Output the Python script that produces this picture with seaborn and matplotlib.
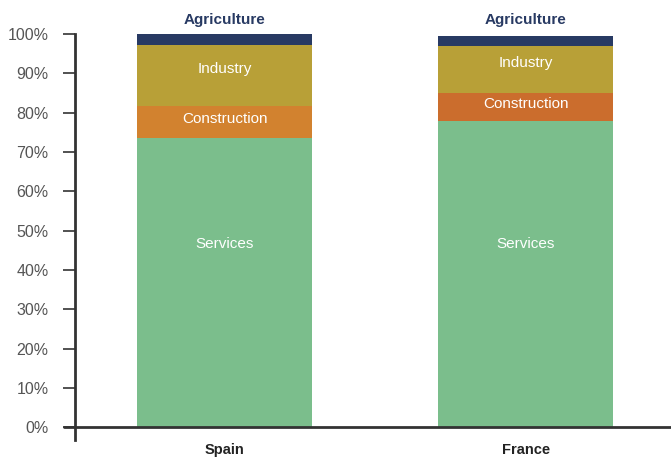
import numpy as np
import pandas as pd
import seaborn as sns
import matplotlib
matplotlib.use("Agg")
import matplotlib.pyplot as plt

countries = ["Spain", "France"]
services = [73.5, 77.8]
construction = [8.1, 7.2]
industry = [15.6, 11.9]
agriculture = [2.8, 2.7]

sectors = ["Services", "Construction", "Industry", "Agriculture"]
colors = {
    "Services": {"Spain": "#7bbe8c", "France": "#7bbe8c"},
    "Construction": {"Spain": "#d2822f", "France": "#cb6d2d"},
    "Industry": {"Spain": "#b8a037", "France": "#b8a037"},
    "Agriculture": {"Spain": "#283a63", "France": "#283a63"},
}

sns.set_theme(style="white")
plt.rcParams["font.family"] = ["Liberation Sans Narrow", "Liberation Sans", "DejaVu Sans"]

df = pd.DataFrame({"country": countries, "Services": services,
                   "Construction": construction, "Industry": industry,
                   "Agriculture": agriculture})
cum = df[sectors].cumsum(axis=1)
cum["country"] = df["country"]

fig = plt.figure(figsize=(6.71, 4.57), dpi=100)
ax = fig.add_axes([75 / 671, 17 / 457, 596 / 671, 406 / 457])

# stacked bars: draw cumulative totals from top down so each overlays the next
for sector in reversed(sectors):
    sns.barplot(data=cum, x="country", y=sector, hue="country",
                palette=colors[sector], width=0.58, dodge=False,
                legend=False, ax=ax, linewidth=0, saturation=1)

ax.set_xlim(-0.497, 1.483)
ax.set_ylim(-3.2, 100)
ax.set_yticks(np.arange(0, 101, 10))
ax.set_yticklabels([f"{v}%" for v in range(0, 101, 10)], color="#555555", fontsize=11.5)
ax.tick_params(axis="y", direction="out", length=9, width=1.2, color="#333333",
               left=True, pad=10)
ax.tick_params(axis="x", length=0, pad=2, labelsize=10.5, labelcolor="#222222")
for lbl in ax.get_xticklabels():
    lbl.set_fontweight("bold")
ax.set_xlabel("")
ax.set_ylabel("")

for s in ["top", "right", "bottom"]:
    ax.spines[s].set_visible(False)
ax.spines["left"].set_color("#333333")
ax.spines["left"].set_linewidth(2)
ax.axhline(0, xmin=-11 / 596, xmax=1, color="#333333", lw=2, clip_on=False, zorder=5)

# segment labels
for i in range(len(countries)):
    ax.text(i, 46.5, "Services", ha="center", va="center", color="white", fontsize=11)
    c0 = services[i]
    ax.text(i, c0 + construction[i] / 2 + 0.8, "Construction", ha="center", va="center",
            color="white", fontsize=11)
    c1 = c0 + construction[i]
    ax.text(i, c1 + industry[i] / 2 + 1.6, "Industry", ha="center", va="center",
            color="white", fontsize=11)
    ax.text(i, 103.5, "Agriculture", ha="center", va="center", color="#283a63",
            fontsize=11, fontweight="bold", clip_on=False)

fig.savefig("out.png", dpi=100)
